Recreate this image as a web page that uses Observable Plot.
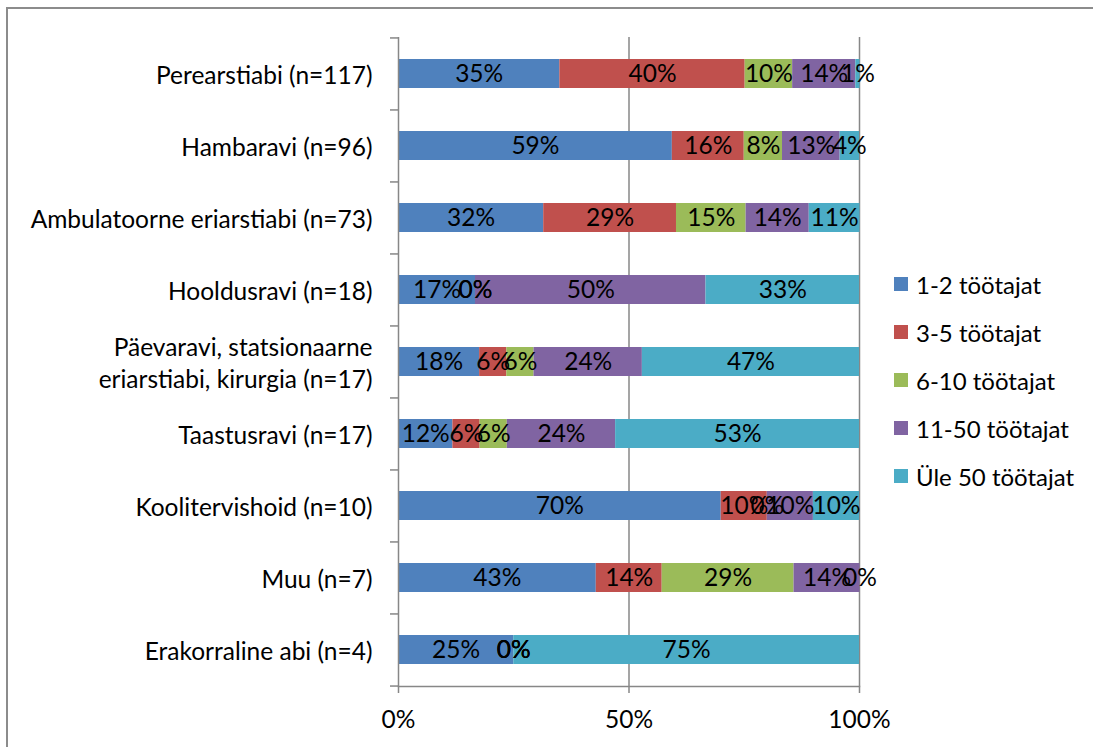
<!DOCTYPE html>
<html>
<head>
<meta charset="utf-8">
<script src="https://cdn.jsdelivr.net/npm/d3@7"></script>
<script src="https://cdn.jsdelivr.net/npm/@observablehq/plot@0.6"></script>
<style>
  html, body { margin: 0; padding: 0; background: #fff; }
  #wrap { position: relative; width: 1093px; height: 747px; overflow: hidden; font-family: Lato, "Open Sans", sans-serif; }
  #border { position: absolute; left: 6px; top: 7px; width: 1200px; height: 900px; border-left: 2px solid #8c8c8c; border-top: 2px solid #8c8c8c; pointer-events: none; }
  #legend { position: absolute; left: 894px; top: 260px; }
  .item { display: flex; align-items: center; height: 48px; font-size: 24px; color: #000; }
  .sw { width: 14px; height: 14px; margin-right: 8px; }
  svg { position: absolute; left: 0; top: 0; }
</style>
</head>
<body>
<div id="wrap"><div id="border"></div><div id="legend"></div></div>
<script>
const categories = [
  "Perearstiabi (n=117)",
  "Hambaravi (n=96)",
  "Ambulatoorne eriarstiabi (n=73)",
  "Hooldusravi (n=18)",
  "Päevaravi, statsionaarne\neriarstiabi, kirurgia (n=17)",
  "Taastusravi (n=17)",
  "Koolitervishoid (n=10)",
  "Muu (n=7)",
  "Erakorraline abi (n=4)"
];
const series = ["1-2 töötajat", "3-5 töötajat", "6-10 töötajat", "11-50 töötajat", "Üle 50 töötajat"];
const colors = ["#4F81BD", "#C0504D", "#9BBB59", "#8064A2", "#4BACC6"];
const s1 = [35.0, 59.4, 31.5, 16.7, 17.6, 11.8, 70, 42.9, 25];
const s2 = [40.2, 15.6, 28.8, 0, 5.9, 5.9, 10, 14.3, 0];
const s3 = [10.3, 8.3, 15.1, 0, 5.9, 5.9, 0, 28.6, 0];
const s4 = [13.7, 12.5, 13.7, 50, 23.5, 23.5, 10, 14.3, 0];
const s5 = [0.9, 4.2, 11.0, 33.3, 47.1, 52.9, 10, 0, 75];
const xTicks = [0, 50, 100];

const seriesValues = [s1, s2, s3, s4, s5];
const data = [];
categories.forEach((c, i) => {
  series.forEach((s, j) => data.push({cat: c, series: s, value: seriesValues[j][i]}));
});

const W = 1093, H = 747, mt = 37, mb = 61, ml = 398, mr = 234;
const step = (H - mt - mb) / categories.length;
const gray = "#878787";
const fs = 24.5;

const chart = Plot.plot({
  width: W, height: H,
  marginTop: mt, marginBottom: mb, marginLeft: ml, marginRight: mr,
  style: {fontFamily: "Lato, 'Open Sans', sans-serif", fontSize: fs + "px", color: "#000", background: "transparent"},
  x: {domain: [0, 100]},
  y: {type: "band", domain: categories, paddingInner: 0.6, paddingOuter: 0.3},
  color: {domain: series, range: colors},
  marks: [
    Plot.ruleX([50, 100], {stroke: gray, strokeWidth: 1.5}),
    Plot.barX(data, Plot.stackX({x: "value", y: "cat", fill: "series", order: null})),
    Plot.text(data, Plot.stackX({x: "value", y: "cat", z: "series", order: null, text: d => Math.round(d.value) + "%", fill: "#000", fontSize: fs})),
    Plot.ruleX([0], {stroke: gray, strokeWidth: 1.5}),
    Plot.frame({anchor: "bottom", stroke: gray, strokeWidth: 1.5}),
    Plot.axisY({tickSize: 0, tickPadding: 26, fontSize: fs, lineHeight: 1.3, label: null}),
    Plot.axisY({tickSize: 8, tickFormat: () => "", dy: -step / 2, stroke: gray, strokeWidth: 1.5, label: null}),
    Plot.axisY({ticks: [categories[categories.length - 1]], tickSize: 8, tickFormat: () => "", dy: step / 2, stroke: gray, strokeWidth: 1.5, label: null}),
    Plot.axisX({ticks: xTicks, tickFormat: d => d + "%", tickSize: 7, tickPadding: 17, stroke: gray, strokeWidth: 1.5, fontSize: fs, label: null})
  ]
});
document.getElementById("wrap").appendChild(chart);

const legend = document.getElementById("legend");
series.forEach((s, j) => {
  const item = document.createElement("div");
  item.className = "item";
  const sw = document.createElement("div");
  sw.className = "sw";
  sw.style.background = colors[j];
  const t = document.createElement("span");
  t.textContent = s;
  item.appendChild(sw);
  item.appendChild(t);
  legend.appendChild(item);
});
</script>
</body>
</html>
